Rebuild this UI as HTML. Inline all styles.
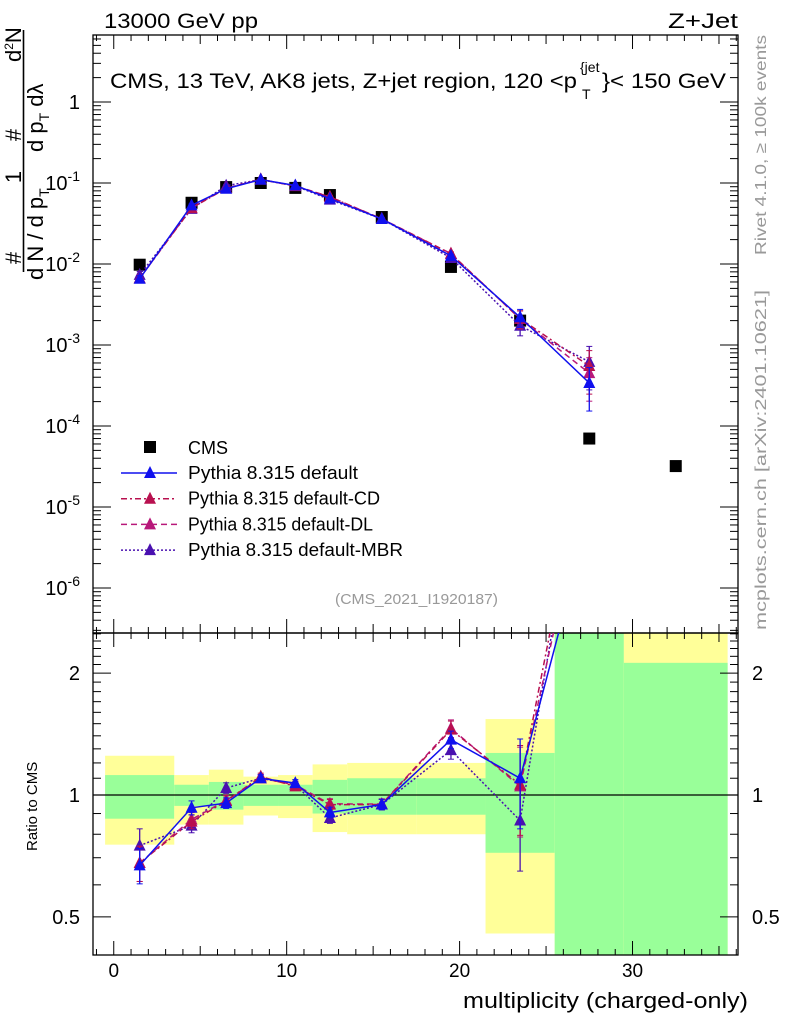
<!DOCTYPE html>
<html><head><meta charset="utf-8"><style>
html,body{margin:0;padding:0;background:#fff;}
svg{display:block;font-family:"Liberation Sans",sans-serif;}
</style></head><body>
<svg id="c" width="786" height="1024" viewBox="0 0 786 1024" xmlns="http://www.w3.org/2000/svg">
<text x="104" y="28" font-size="21" textLength="154" lengthAdjust="spacingAndGlyphs">13000 GeV pp</text>
<text x="668" y="28" font-size="21" textLength="70" lengthAdjust="spacingAndGlyphs">Z+Jet</text>
<g>
<text x="110" y="88" font-size="21" textLength="467" lengthAdjust="spacingAndGlyphs">CMS, 13 TeV, AK8 jets, Z+jet region, 120 &lt;p</text>
<text x="580" y="72" font-size="14">{jet</text>
<text x="582" y="99" font-size="14">T</text>
<text x="602" y="88" font-size="21" textLength="124" lengthAdjust="spacingAndGlyphs">}&lt; 150 GeV</text>
</g>
<text x="335" y="604" font-size="15" fill="#999" textLength="163" lengthAdjust="spacingAndGlyphs">(CMS_2021_I1920187)</text>
<text transform="translate(766,255) rotate(-90)" font-size="16" fill="#999" textLength="220" lengthAdjust="spacingAndGlyphs">Rivet 4.1.0, ≥ 100k events</text>
<text transform="translate(766,630) rotate(-90)" font-size="16" fill="#999" textLength="340" lengthAdjust="spacingAndGlyphs">mcplots.cern.ch [arXiv:2401.10621]</text>
<g font-size="22">
<text transform="translate(21,258) rotate(-90)" text-anchor="middle">#</text>
<text transform="translate(21,177) rotate(-90)" text-anchor="middle">1</text>
<text transform="translate(21,135) rotate(-90)" text-anchor="middle">#</text>
<text transform="translate(21,62) rotate(-90)">d<tspan font-size="12" dy="-8">2</tspan><tspan dy="8">N</tspan></text>
<line x1="23.5" y1="272" x2="23.5" y2="30" stroke="#000" stroke-width="1.6"/>
<text transform="translate(43,280) rotate(-90)">d N / d p<tspan font-size="14" dy="6">T</tspan></text>
<text transform="translate(43,152) rotate(-90)">d p<tspan font-size="14" dy="6">T</tspan><tspan dy="-6"> d</tspan>λ</text>
</g>
<text transform="translate(37,851) rotate(-90)" font-size="15">Ratio to CMS</text>
<text x="463" y="1008" font-size="22" textLength="285" lengthAdjust="spacingAndGlyphs">multiplicity (charged-only)</text>
<g id="g"></g>
</svg>
<script>
const xCenters=[1.5,4.5,6.5,8.5,10.5,12.5,15.5,19.5,23.5,27.5,32.5];
const binEdges=[-0.5,3.5,5.5,7.5,9.5,11.5,13.5,17.5,21.5,25.5,29.5,35.5];
const cmsValues=[0.0098,0.057,0.089,0.1,0.087,0.071,0.038,0.0092,0.002,7e-5,3.2e-5];
const bandInnerLo=[0.874,0.94,0.92,0.94,0.94,0.90,0.894,0.894,0.72,0.3,0.3];
const bandInnerHi=[1.12,1.06,1.077,1.06,1.06,1.09,1.10,1.10,1.27,4,2.12];
const bandOuterLo=[0.754,0.845,0.845,0.89,0.877,0.81,0.80,0.80,0.455,0.3,0.3];
const bandOuterHi=[1.25,1.12,1.155,1.11,1.12,1.19,1.2,1.2,1.54,5,5];
const mcDefault=[0.00657,0.0530,0.0850,0.110,0.0931,0.0643,0.0360,0.0126,0.0022,3.4e-4];
const mcCD=[0.00666,0.0490,0.0860,0.111,0.0914,0.0672,0.0360,0.01334,0.00212,5.5e-4];
const mcDL=[0.00666,0.0496,0.0863,0.110,0.0922,0.0675,0.0361,0.01343,0.0021,4.5e-4];
const mcMBR=[0.00735,0.0479,0.0926,0.110,0.0922,0.0623,0.0360,0.01187,0.00173,6.2e-4];
const mcRelErr=[0.1,0.04,0.03,0.02,0.02,0.03,0.03,0.05,0.25,0.55];
const seriesNames=["Pythia 8.315 default","Pythia 8.315 default-CD","Pythia 8.315 default-DL","Pythia 8.315 default-MBR"];
const xTicks=[0,10,20,30];
const yTicksMain=[0,-1,-2,-3,-4,-5,-6];
const yTicksRatio=[2,1,0.5];

const NS="http://www.w3.org/2000/svg";
const G=document.getElementById('g');
const L=93,R=738,T=35,M=633,B=955;
const xmin=-1.2,xmax=36.1;
const X=v=>L+(v-xmin)/(xmax-xmin)*(R-L);
const Y=v=>102-81*Math.log10(v);
const YR=v=>{let y=795-405*Math.log10(v);return Math.max(M,Math.min(B,y));};
function el(t,a,p){const e=document.createElementNS(NS,t);for(const k in a)e.setAttribute(k,a[k]);(p||G).appendChild(e);return e;}
const bandG=el('g',{});


for(let i=0;i<xCenters.length;i++){
 const x1=X(binEdges[i]),x2=X(binEdges[i+1]);
 const r1=el('rect',{x:x1,y:YR(bandOuterHi[i]),width:x2-x1,height:YR(bandOuterLo[i])-YR(bandOuterHi[i]),fill:'#ffff99'},bandG);
 
 
 const r2=el('rect',{x:x1,y:YR(bandInnerHi[i]),width:x2-x1,height:YR(bandInnerLo[i])-YR(bandInnerHi[i]),fill:'#99ff99'},bandG);
 
 
}
el('line',{x1:L,x2:R,y1:YR(1),y2:YR(1),stroke:'#000','stroke-width':1.3});
const defs=el('defs',{});
const cp1=el('clipPath',{id:'cm'},defs);el('rect',{x:L,y:T,width:R-L,height:M-T},cp1);
const cp2=el('clipPath',{id:'cr'},defs);el('rect',{x:L,y:M,width:R-L,height:B-M},cp2);
const f1=el('rect',{x:L,y:T,width:R-L,height:M-T,fill:'none',stroke:'#000','stroke-width':1.3});


const f2=el('rect',{x:L,y:M,width:R-L,height:B-M,fill:'none',stroke:'#000','stroke-width':1.3});


for(let v=-1;v<=36;v++){
 const major=v%10===0, mid=v%5===0;
 const len=major?14:(mid?9:6);
 el('line',{x1:X(v),x2:X(v),y1:T,y2:T+len,stroke:'#000'});
 el('line',{x1:X(v),x2:X(v),y1:M,y2:M+len,stroke:'#000'});
 el('line',{x1:X(v),x2:X(v),y1:B,y2:B-len,stroke:'#000'});
 el('line',{x1:X(v),x2:X(v),y1:M,y2:M-len,stroke:'#000'});
}
xTicks.forEach(v=>{const t=el('text',{x:X(v),y:977,'font-size':19,'text-anchor':'middle'});t.textContent=v;
 
 });
for(let e=-7;e<=1;e++){for(let m=1;m<10;m++){const v=m*Math.pow(10,e);const y=Y(v);if(y<T||y>M)continue;
 const len=m===1?18:8;el('line',{x1:L,x2:L+len,y1:y,y2:y,stroke:'#000'});el('line',{x1:R,x2:R-len,y1:y,y2:y,stroke:'#000'});}}
yTicksMain.forEach(e=>{const y=Y(Math.pow(10,e));const t=el('text',{x:80,y:y+7,'font-size':20,'text-anchor':'end'});
 
 
 if(e===0)t.textContent='1';else{t.textContent='10';const s=el('tspan',{'font-size':14,dy:-9},t);s.textContent=String(e);}});
for(let v=0.4;v<=2.5;v=Math.round((v+0.1)*10)/10){const y=YR(v);if(y<=M||y>=B)continue;const big=(v===0.5||v===1||v===2);const len=big?18:8;
 el('line',{x1:L,x2:L+len,y1:y,y2:y,stroke:'#000'});el('line',{x1:R,x2:R-len,y1:y,y2:y,stroke:'#000'});}
yTicksRatio.forEach(v=>{const y=YR(v);[80,752].forEach((xx,j)=>{const t=el('text',{x:xx,y:y+7,'font-size':20,'text-anchor':j?'start':'end'});t.textContent=v;
 
 });});
const cg=el('g',{'clip-path':'url(#cm)'});


cmsValues.forEach((v,i)=>{const r=el('rect',{x:X(xCenters[i])-6,y:Y(v)-6,width:12,height:12,fill:'#000'},cg);
 
 });
const series=[[mcDefault,'#1010ee','',seriesNames[0]],[mcCD,'#b8104f','6,3,2,3',seriesNames[1]],[mcDL,'#b8187a','6,4',seriesNames[2]],[mcMBR,'#4a10b0','2,2',seriesNames[3]]];
function tri(x,y,c,p){const t=el('polygon',{points:`${x-6},${y+5} ${x+6},${y+5} ${x},${y-7}`,fill:c},p);
 
 }
series.slice().reverse().forEach(([vals,col,dash,name])=>{
 const gm=el('g',{'clip-path':'url(#cm)'});
 
 
 const gr=el('g',{'clip-path':'url(#cr)'});
 
 
 const ptsM=vals.map((v,i)=>X(xCenters[i])+','+Y(v)).join(' ');
 const ptsR=vals.map((v,i)=>X(xCenters[i])+','+(795-405*Math.log10(v/cmsValues[i]))).join(' ');
 el('polyline',{points:ptsM,fill:'none',stroke:col,'stroke-width':1.5,'stroke-dasharray':dash},gm);
 el('polyline',{points:ptsR,fill:'none',stroke:col,'stroke-width':1.5,'stroke-dasharray':dash},gr);
 vals.forEach((v,i)=>{const x=X(xCenters[i]);const e=mcRelErr[i];
  const y1=Y(v*(1+e)),y2=Y(v*(1-e));
  el('line',{x1:x,x2:x,y1:y1,y2:y2,stroke:col,'stroke-width':1.3},gm);
  el('line',{x1:x-3,x2:x+3,y1:y1,y2:y1,stroke:col},gm);el('line',{x1:x-3,x2:x+3,y1:y2,y2:y2,stroke:col},gm);
  tri(x,Y(v),col,gm);
  const r=v/cmsValues[i];const ry=795-405*Math.log10(r);
  if(ry<M) return;
  const ry1=795-405*Math.log10(r*(1+e)),ry2=795-405*Math.log10(r*(1-e));
  el('line',{x1:x,x2:x,y1:ry1,y2:ry2,stroke:col,'stroke-width':1.3},gr);
  el('line',{x1:x-3,x2:x+3,y1:ry1,y2:ry1,stroke:col},gr);el('line',{x1:x-3,x2:x+3,y1:ry2,y2:ry2,stroke:col},gr);
  tri(x,ry,col,gr);
 });
});
const lg=el('g',{});


const e0=el('g',{},lg);


el('rect',{x:144,y:441,width:12,height:12,fill:'#000'},e0);
const t0=el('text',{x:188,y:454,'font-size':18},e0);t0.textContent='CMS';
series.forEach(([vals,col,dash,name],k)=>{const y=473+k*25.7;const e=el('g',{},lg);
 
 
 el('line',{x1:121,x2:177,y1:y,y2:y,stroke:col,'stroke-width':1.5,'stroke-dasharray':dash},e);
 tri(150,y,col,e);
 const t=el('text',{x:188,y:y+6,'font-size':18},e);t.textContent=name;
 t.setAttribute('textLength',[170,192,185,215][k]);
 t.setAttribute('lengthAdjust','spacingAndGlyphs');});
</script>
</body></html>
